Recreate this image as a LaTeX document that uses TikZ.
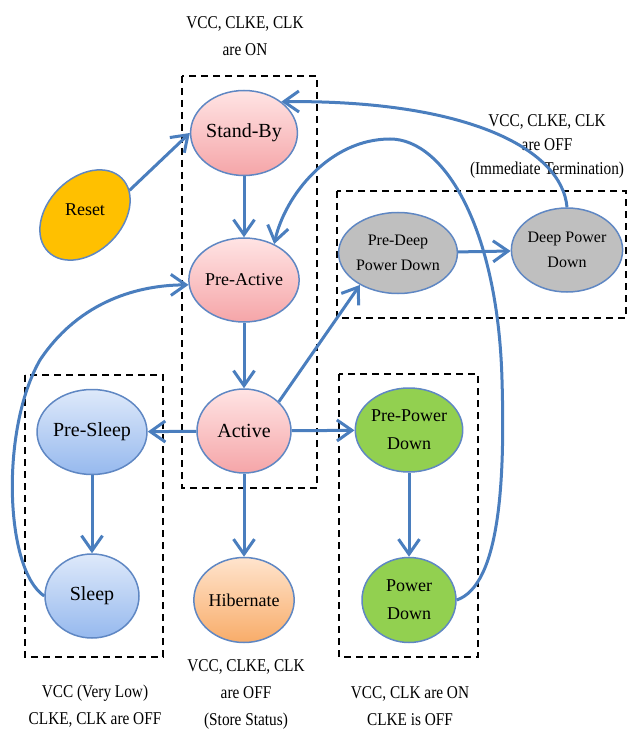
\documentclass[tikz,border=0pt]{standalone}
\usepackage{fontspec}
\setmainfont{Liberation Serif}
\newfontfamily\lblfont{Liberation Serif}[FakeStretch=0.85]
\usetikzlibrary{shapes.geometric,arrows.meta}
\definecolor{edgeblue}{RGB}{74,126,190}
\definecolor{rimblue}{RGB}{95,135,195}
\definecolor{pinktop}{RGB}{255,228,228}
\definecolor{pinkbot}{RGB}{245,165,168}
\definecolor{bluetop}{RGB}{222,233,250}
\definecolor{bluebot}{RGB}{150,185,238}
\definecolor{orgtop}{RGB}{255,228,205}
\definecolor{orgbot}{RGB}{248,172,105}
\definecolor{greenst}{RGB}{146,208,80}
\definecolor{grayst}{RGB}{191,191,191}
\definecolor{resetcol}{RGB}{255,192,0}
\begin{document}
\begin{tikzpicture}[x=1pt,y=-1pt,
  state/.style={ellipse, draw=rimblue, line width=1.5pt, minimum width=94pt, minimum height=85pt, inner sep=0pt, align=center, font=\fontsize{20}{24}\selectfont},
  pinkst/.style={state, top color=pinktop, bottom color=pinkbot},
  bluest/.style={state, top color=bluetop, bottom color=bluebot},
  orgst/.style={state, top color=orgtop, bottom color=orgbot},
  greenstate/.style={state, fill=greenst, font=\fontsize{18}{28}\selectfont},
  graystate/.style={state, fill=grayst, font=\fontsize{16}{25}\selectfont},
  conn/.style={draw=edgeblue, line width=3pt, -{Straight Barb[length=15pt,width=21pt]}},
  grp/.style={draw=black, dash pattern=on 7pt off 5pt, line width=1.3pt},
  lbl/.style={align=center, font=\lblfont\fontsize{18}{27}\selectfont}]
\useasboundingbox (0,0) rectangle (638,735);

% dashed groups
\draw[grp] (182,76) rectangle (317,488);
\draw[grp] (25,375) rectangle (163,657);
\draw[grp] (339,374) rectangle (478,657);
\draw[grp] (337,191) rectangle (626,318);

% states
\node[pinkst] (standby) at (244,133) {Stand-By};
\node[pinkst, font=\fontsize{18}{24}\selectfont, minimum height=84pt] (preactive) at (244,280) {Pre-Active};
\node[pinkst, minimum height=84pt] (active) at (244,431) {Active};
\node[bluest] (presleep) at (92,432) {Pre-Sleep};
\node[bluest, minimum height=84pt] (sleep) at (92,596) {Sleep};
\node[orgst, font=\fontsize{18}{24}\selectfont] (hibernate) at (244,600) {Hibernate};
\node[greenstate, minimum height=84pt] (prepd) at (409,430) {Pre-Power\\Down};
\node[greenstate] (pd) at (409,600) {Power\\Down};
\node[graystate, minimum width=93pt, minimum height=81pt] (predeep) at (398,253) {Pre-Deep\\Power Down};
\node[graystate, minimum width=95pt, minimum height=84pt] (deep) at (567,250) {Deep Power\\Down};
\node[ellipse, draw=rimblue, line width=1.5pt, fill=resetcol, rotate=45, minimum width=104pt, minimum height=74pt, inner sep=0pt] (reset) at (85,215) {};
\node[font=\fontsize{18}{24}\selectfont] (resetlbl) at (85,210) {Reset};

% labels
\node[lbl] (lblon) at (245,36) {VCC, CLKE, CLK\\are ON};
\node[lbl, font=\lblfont\fontsize{18}{24}\selectfont] (lbldeep) at (547,146) {VCC, CLKE, CLK\\are OFF\\(Immediate Termination)};
\node[lbl] (lblsleep) at (95,706) {VCC (Very Low)\\CLKE, CLK are OFF};
\node[lbl] (lblhib) at (246,694) {VCC, CLKE, CLK\\are OFF\\(Store Status)};
\node[lbl] (lblpd) at (410,706) {VCC, CLK are ON\\CLKE is OFF};

% connectors
\draw[conn] (reset.-16) -- (standby.west);
\draw[conn] (standby) -- (preactive);
\draw[conn] (preactive) -- (active);
\draw[conn] (active) -- (presleep);
\draw[conn] (active) -- (prepd);
\draw[conn] (active) -- (hibernate);
\draw[conn] (active.40) -- (predeep.220);
\draw[conn] (presleep) -- (sleep);
\draw[conn] (prepd) -- (pd);
\draw[conn] (predeep) -- (deep);
\draw[conn] (deep.north) .. controls (562,150) and (470,100) .. (standby.40);
\draw[conn] (pd.east) .. controls (500,585) and (505,480) .. (502,380)
  .. controls (498,230) and (445,139) .. (390,139)
  .. controls (330,139) and (285,195) .. (preactive.50);
\draw[conn] (sleep.west) .. controls (5,570) and (0,430) .. (40,360)
  .. controls (80,300) and (140,285) .. (preactive.185);
\end{tikzpicture}
\end{document}
